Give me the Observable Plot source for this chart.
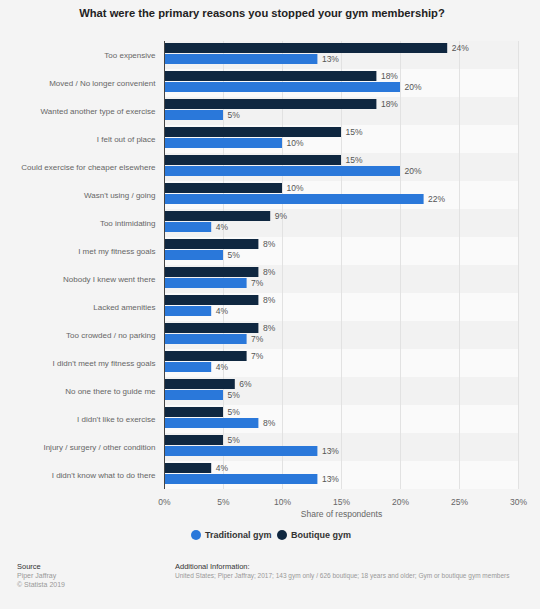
<!DOCTYPE html>
<html>
<head>
<meta charset="utf-8">
<script src="https://cdn.jsdelivr.net/npm/d3@7"></script>
<script src="https://cdn.jsdelivr.net/npm/@observablehq/plot@0.6"></script>
<style>
  html, body { margin: 0; padding: 0; background: #f4f4f4; }
  body { width: 540px; height: 609px; position: relative; overflow: hidden;
         font-family: "Liberation Sans", Arial, Helvetica, sans-serif; }
  #title { position: absolute; top: 7px; left: 0; width: 524px; text-align: center;
           font-size: 11.2px; font-weight: bold; color: #222; }
  #chart { position: absolute; top: 30px; left: 0; }
  #legend { position: absolute; top: 528px; left: 0; width: 540px; height: 16px; }
  .item { position: absolute; top: 0; font-size: 9px; font-weight: bold; color: #333; line-height: 14px; white-space: nowrap; }
  .dot { position: absolute; top: 2px; width: 10px; height: 10px; border-radius: 50%; }
  #source { position: absolute; left: 17px; top: 562px; font-size: 7px; color: #999; line-height: 9px; white-space: nowrap; }
  #info { position: absolute; left: 175px; top: 562px; font-size: 6.5px; color: #999; line-height: 9px; white-space: nowrap; }
  .head { color: #333; font-size: 7.5px; }
</style>
</head>
<body>
<div id="title">What were the primary reasons you stopped your gym membership?</div>
<div id="chart"></div>
<div id="legend"></div>
<div id="source"><div class="head">Source</div>Piper Jaffray<br>© Statista 2019</div>
<div id="info"><div class="head">Additional Information:</div>United States; Piper Jaffray; 2017; 143 gym only / 626 boutique; 18 years and older; Gym or boutique gym members</div>
<script>
// Reasons for ending a gym membership, share of respondents (%)
const categories = [
  "Too expensive",
  "Moved / No longer convenient",
  "Wanted another type of exercise",
  "I felt out of place",
  "Could exercise for cheaper elsewhere",
  "Wasn't using / going",
  "Too intimidating",
  "I met my fitness goals",
  "Nobody I knew went there",
  "Lacked amenities",
  "Too crowded / no parking",
  "I didn't meet my fitness goals",
  "No one there to guide me",
  "I didn't like to exercise",
  "Injury / surgery / other condition",
  "I didn't know what to do there"
];
const boutique    = [24, 18, 18, 15, 15, 10, 9, 8, 8, 8, 8, 7, 6, 5, 5, 4];
const traditional = [13, 20, 5, 10, 20, 22, 4, 5, 7, 4, 7, 4, 5, 8, 13, 13];
const seriesNames = ["Boutique gym", "Traditional gym"];
const legendOrder = ["Traditional gym", "Boutique gym"];
const seriesColors = {"Boutique gym": "#0f2740", "Traditional gym": "#2a78da"};
const xTicks = [0, 5, 10, 15, 20, 25, 30];

const rows = categories.flatMap((cat, i) => [
  {cat, series: "Boutique gym", value: boutique[i]},
  {cat, series: "Traditional gym", value: traditional[i]}
]);
const stripes = categories.map((cat, i) => ({cat, even: i % 2 === 0}));

const font = "Liberation Sans, Arial, Helvetica, sans-serif";

const chart = Plot.plot({
  width: 540,
  height: 490,
  marginTop: 10,
  marginBottom: 30,
  marginLeft: 164,
  marginRight: 22,
  style: {background: "transparent", fontFamily: font},
  x: {domain: [0, 30]},
  y: {domain: seriesNames, paddingInner: 0.07, paddingOuter: 0.29, align: 0.3, axis: null},
  fy: {domain: categories, padding: 0, label: null},
  color: {domain: seriesNames, range: seriesNames.map(s => seriesColors[s])},
  marks: [
    Plot.barX(stripes.filter(d => d.even), {fy: "cat", x1: 0, x2: 30, fill: "#f2f2f2"}),
    Plot.barX(stripes.filter(d => !d.even), {fy: "cat", x1: 0, x2: 30, fill: "#fafafa"}),
    Plot.gridX(xTicks.slice(1), {stroke: "#e2e2e2", strokeOpacity: 1}),
    Plot.barX(rows, {fy: "cat", y: "series", x: "value", fill: "series"}),
    Plot.text(rows, {fy: "cat", y: "series", x: "value", text: d => d.value + "%",
      dx: 4, textAnchor: "start", fontSize: 8.5, fill: "#555"}),
    Plot.ruleX([0], {stroke: "#444", strokeWidth: 1}),
    Plot.axisFy({anchor: "left", tickSize: 0, tickPadding: 9, fontSize: 8, color: "#666", label: null}),
    Plot.axisX(xTicks, {anchor: "bottom", tickSize: 0, tickPadding: 9, fontSize: 8.5, color: "#666",
      tickFormat: d => d + "%", label: "Share of respondents", labelAnchor: "center",
      labelArrow: "none", labelOffset: 27})
  ]
});
document.getElementById("chart").appendChild(chart);

// Legend below the chart
const legend = document.getElementById("legend");
const legendX = {"Traditional gym": 191, "Boutique gym": 277};
legendOrder.forEach(name => {
  const dot = document.createElement("div");
  dot.className = "dot";
  dot.style.left = legendX[name] + "px";
  dot.style.background = seriesColors[name];
  legend.appendChild(dot);
  const label = document.createElement("div");
  label.className = "item";
  label.style.left = (legendX[name] + 14) + "px";
  label.textContent = name;
  legend.appendChild(label);
});
</script>
</body>
</html>
